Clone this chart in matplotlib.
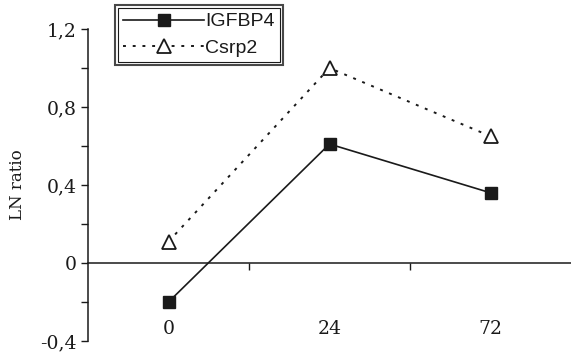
import matplotlib.pyplot as plt
from matplotlib.patches import Rectangle

# data
categories = ["0", "24", "72"]
igfbp4 = [-0.2, 0.61, 0.36]
csrp2 = [0.11, 1.0, 0.65]
yticks = [-0.4, 0, 0.4, 0.8, 1.2]
ylabels = ["-0,4", "0", "0,4", "0,8", "1,2"]

fig = plt.figure(figsize=(5.71, 3.52), dpi=100)
ax = fig.add_axes([88 / 571, 11 / 352, 1 - 88 / 571, 312 / 352])

x = [i + 0.5 for i in range(len(categories))]
ax.plot(x, igfbp4, color="#1a1a1a", lw=1.2, marker="s", ms=8.5,
        mfc="#1a1a1a", mec="#1a1a1a", label="IGFBP4", clip_on=False)
ax.plot(x, csrp2, color="#1a1a1a", lw=1.4, ls=(0, (1.5, 3.5)), marker="^", ms=9.5,
        mfc="white", mec="#1a1a1a", mew=1.3, label="Csrp2", clip_on=False)

ax.set_xlim(0, 3)
ax.set_ylim(-0.4, 1.2)

# spines
for s in ["top", "right"]:
    ax.spines[s].set_visible(False)
ax.spines["bottom"].set_position(("data", 0))
ax.spines["left"].set_bounds(-0.4, 1.2)
for s in ["left", "bottom"]:
    ax.spines[s].set_linewidth(1.1)
    ax.spines[s].set_color("#1a1a1a")

# y ticks
ax.set_yticks(yticks)
ax.set_yticklabels(ylabels, family="DejaVu Serif", fontsize=13.5, color="#1a1a1a")
ax.set_yticks([-0.2, 0.2, 0.6, 1.0], minor=True)
ax.tick_params(axis="y", which="both", direction="out", length=5, width=1, colors="#1a1a1a")
ax.tick_params(axis="y", which="major", pad=3)

# x ticks: boundaries as ticks, labels under the plot
ax.set_xticks([1, 2])
ax.set_xticklabels([])
ax.tick_params(axis="x", which="major", direction="out", length=5, width=1, colors="#1a1a1a")
ax.set_xticks(x, minor=True)
ax.set_xticklabels(categories, minor=True, family="DejaVu Serif", fontsize=13.5, color="#1a1a1a")
ax.tick_params(axis="x", which="minor", length=0, pad=41)

ax.set_ylabel("LN ratio", family="DejaVu Serif", fontsize=12, color="#1a1a1a", labelpad=10)

leg = ax.legend(loc="upper left", bbox_to_anchor=(115 / 571, 1 - 5 / 352),
                bbox_transform=fig.transFigure, frameon=True, fancybox=False,
                prop={"family": "Liberation Sans", "size": 14},
                handlelength=4.2, handletextpad=0.05, borderpad=0.4,
                labelspacing=0.45, borderaxespad=0)
leg.get_frame().set_edgecolor("#1a1a1a")
leg.get_frame().set_linewidth(1.5)
for t in leg.get_texts():
    t.set_color("#1a1a1a")

fig.canvas.draw()
bb = leg.get_window_extent().transformed(fig.transFigure.inverted())
fig.patches.append(Rectangle((bb.x0 + 3 / 571, bb.y0 + 3 / 352), bb.width - 6 / 571,
                             bb.height - 6 / 352, transform=fig.transFigure,
                             fill=False, ec="#1a1a1a", lw=0.8, zorder=10))

fig.savefig("out.png", dpi=100)
